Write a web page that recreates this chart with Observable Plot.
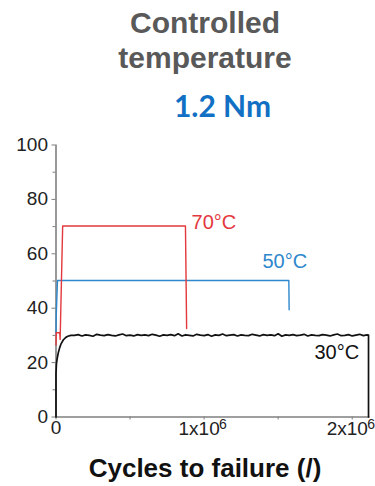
<!DOCTYPE html>
<html><head><meta charset="utf-8">
<script src="https://cdn.jsdelivr.net/npm/d3@7"></script>
<script src="https://cdn.jsdelivr.net/npm/@observablehq/plot@0.6"></script>
<style>
body{margin:0;background:#fff;}
#root{position:relative;width:375px;height:486px;overflow:hidden;font-family:"Liberation Sans",Arial,sans-serif;background:#fff;}
.t1{position:absolute;left:0;top:5px;width:410px;text-align:center;font-weight:bold;font-size:30px;line-height:35px;color:#595959;}
.t2{position:absolute;left:0;top:88px;width:445px;text-align:center;font-family:Lato,"Open Sans",sans-serif;font-weight:bold;font-size:30px;line-height:34px;color:#1170c4;}
.xt{position:absolute;left:0;top:453px;width:410px;text-align:center;font-weight:bold;font-size:26px;line-height:30px;color:#111;}
#chart{position:absolute;left:0;top:130px;}
</style>
</head>
<body>
<div id="root">
  <div class="t1">Controlled<br>temperature</div>
  <div class="t2">1.2 Nm</div>
  <div id="chart"></div>
  <div class="xt">Cycles to failure (/)</div>
</div>
<script>
// ---- data (x in thousands of cycles, y in °C) ----
const yTicks = [0, 20, 40, 60, 80, 100];
const yMinorTicks = [10, 30, 50, 70, 90];
const xTickValues = [0, 1000, 2000];
const xTickBase = ["0", "1x10", "2x10"];
const xTickExp = ["", "6", "6"];
const xMinorTicks = [500, 1500];

const series70Cycles = [0, 2, 25, 28, 45, 874, 882];
const series70Temp   = [26.5, 31, 31, 28.5, 70.2, 70.2, 32.5];

const series50Cycles = [0, 2, 10, 1572, 1574];
const series50Temp   = [31, 38, 50.2, 50.2, 39.4];

const series30Cycles = [0, 0, 3, 8, 15, 25, 35, 50, 65, 80, 100,
  125,150,175,200,225,250,275,300,325,350,375,400,425,450,475,500,525,550,575,600,
  625,650,675,700,725,750,775,800,825,850,875,900,925,950,975,1000,1025,1050,1075,1100,
  1125,1150,1175,1200,1225,1250,1275,1300,1325,1350,1375,1400,1425,1450,1475,1500,1525,1550,1575,1600,
  1625,1650,1675,1700,1725,1750,1775,1800,1825,1850,1875,1900,1925,1950,1975,2000,2025,2050,2075,2100,
  2110, 2110];
const series30Temp = [0, 16, 19.5, 21.5, 23.5, 25.5, 27, 28.4, 29.2, 29.7, 30.0,
  30.0, 30.3, 29.8, 30.2, 30.0, 29.7, 30.4, 30.1, 29.9, 30.3,
  30.0, 29.8, 30.2, 30.5, 29.9, 30.1, 29.8, 30.3, 30.0, 30.2,
  29.9, 30.4, 30.1, 29.7, 30.2, 30.0, 30.3, 29.9, 30.6, 29.8,
  30.2, 30.0, 29.8, 30.4, 30.1, 29.9, 30.3, 29.7, 30.2, 30.0,
  30.5, 29.9, 30.1, 30.3, 29.8, 30.2, 30.0, 29.9, 30.4, 30.1,
  29.8, 30.3, 30.0, 30.2, 29.9, 30.6, 29.7, 30.2, 30.0, 30.3,
  29.9, 30.1, 30.4, 29.8, 30.2, 30.0, 29.9, 30.3, 30.1, 29.8,
  30.2, 30.5, 29.9, 30.0, 30.3, 29.8, 30.1, 30.4, 29.9, 30.2,
  30.1, 0];

const labelText  = ["70°C", "50°C", "30°C"];
const labelCycles = [915, 1394, 1745];
const labelTemp   = [71.5, 57, 23.7];
const seriesColors = ["#e3383d", "#2e87cc", "#111111"];

// ---- build tables ----
const toRows = (xs, ys) => xs.map((x, i) => ({x, y: ys[i]}));
const s70 = toRows(series70Cycles, series70Temp);
const s50 = toRows(series50Cycles, series50Temp);
const s30 = toRows(series30Cycles, series30Temp);
const labels = labelText.map((t, i) => ({t, x: labelCycles[i], y: labelTemp[i], c: seriesColors[i]}));
const xTicks = xTickValues.map((v, i) => ({v, base: xTickBase[i], exp: xTickExp[i]}));

const axisGray = "#7f7f7f";
const plot = Plot.plot({
  width: 375, height: 320,
  marginLeft: 55.5, marginRight: 5.5, marginTop: 14.5, marginBottom: 33.5,
  x: {domain: [0, 2120], label: null},
  y: {domain: [0, 100], label: null},
  style: {fontFamily: "'Liberation Sans', Arial, sans-serif", fontSize: "19px", color: "#222", background: "transparent", overflow: "visible"},
  marks: [
    Plot.axisY(yTicks, {tickSize: 4, tickPadding: 4, fontSize: 19, stroke: axisGray, fill: "#222", label: null}),
    Plot.axisY(yMinorTicks, {tickSize: 3, tickFormat: () => "", stroke: axisGray, label: null}),
    Plot.axisX([...xTickValues, ...xMinorTicks], {tickSize: 3, tickFormat: () => "", stroke: axisGray, label: null}),
    Plot.ruleX([0], {y1: 0, y2: 100, stroke: axisGray, strokeWidth: 1.6}),
    Plot.ruleY([0], {stroke: axisGray, strokeWidth: 1.6}),
    Plot.line(s50, {x: "x", y: "y", stroke: seriesColors[1], strokeWidth: 1.4}),
    Plot.line(s70, {x: "x", y: "y", stroke: seriesColors[0], strokeWidth: 1.4}),
    Plot.line(s30, {x: "x", y: "y", stroke: seriesColors[2], strokeWidth: 1.7}),
    Plot.text(labels, {x: "x", y: "y", text: "t", fill: "c", textAnchor: "start", fontSize: 20}),
    Plot.text(xTicks.filter(d => !d.exp), {x: "v", frameAnchor: "bottom", text: "base", dy: 17, fontSize: 19, fill: "#222"}),
    Plot.text(xTicks.filter(d => d.exp), {x: "v", frameAnchor: "bottom", text: "base", dy: 18, dx: -5, fontSize: 19, fill: "#222"}),
    Plot.text(xTicks.filter(d => d.exp), {x: "v", frameAnchor: "bottom", text: "exp", dy: 12, dx: 15, textAnchor: "start", fontSize: 14, fill: "#222"})
  ]
});
document.getElementById("chart").appendChild(plot);
</script>
</body></html>
